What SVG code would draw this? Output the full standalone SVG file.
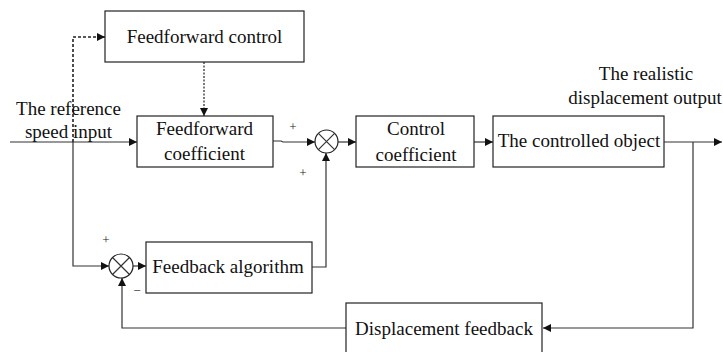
<svg xmlns="http://www.w3.org/2000/svg" width="723" height="352" viewBox="0 0 723 352" font-family="Liberation Serif, Times New Roman, serif">
<style>
.box{fill:#fff;stroke:#222;stroke-width:1.2}
.lbl{font-size:19px;fill:#111;text-anchor:middle}
.sgn{font-size:13px;fill:#222;text-anchor:middle}
.ln{fill:none;stroke:#333;stroke-width:1.2}
.dash{fill:none;stroke:#222;stroke-width:1.6;stroke-dasharray:3 2}
.dot{fill:none;stroke:#222;stroke-width:1.2;stroke-dasharray:2 1.5}
.sum{fill:#fff;stroke:#222;stroke-width:1.2}
</style>
<defs>
<marker id="ah" viewBox="0 0 10 10" refX="10" refY="5" markerWidth="9" markerHeight="8" markerUnits="userSpaceOnUse" orient="auto">
<path d="M0,0 L10,5 L0,10 Z" fill="#111"/>
</marker>
</defs>
<g id="connectors">
<path class="ln" d="M10,142 H137" marker-end="url(#ah)"/>
<path class="dash" d="M73,142 V37 H105" marker-end="url(#ah)"/>
<path class="dot" d="M204,62 V116" marker-end="url(#ah)"/>
<path class="ln" d="M273,141 H281 L283,142 H315" marker-end="url(#ah)"/>
<path class="ln" d="M338,142 H356" marker-end="url(#ah)"/>
<path class="ln" d="M474,142 H493" marker-end="url(#ah)"/>
<path class="ln" d="M664,142 H722" marker-end="url(#ah)"/>
<path class="ln" d="M693,142 V328 H543" marker-end="url(#ah)"/>
<path class="ln" d="M346,328 H122 V278" marker-end="url(#ah)"/>
<path class="ln" d="M73,142 V266 H109" marker-end="url(#ah)"/>
<path class="ln" d="M133,266 H146" marker-end="url(#ah)"/>
<path class="ln" d="M312,267 H326 V153" marker-end="url(#ah)"/>
</g>
<g id="ff-control">
<rect class="box" x="105" y="11" width="199" height="51"/>
<text class="lbl" x="204.5" y="43" font-family="Liberation Serif, serif">Feedforward control</text>
</g>
<g id="input-label">
<text class="lbl" x="68.5" y="115">The reference</text>
<text class="lbl" x="68.5" y="138">speed input</text>
</g>
<g id="ff-coefficient">
<rect class="box" x="137" y="116" width="136" height="51"/>
<text class="lbl" x="204.5" y="135">Feedforward</text>
<text class="lbl" x="204.5" y="160">coefficient</text>
</g>
<g id="sum1">
<circle class="sum" cx="326.5" cy="141.5" r="11.5"/>
<path class="ln" d="M318.4,133.4 L334.6,149.6 M334.6,133.4 L318.4,149.6"/>
<text class="sgn" x="293" y="131">+</text>
<text class="sgn" x="303" y="177">+</text>
</g>
<g id="control-coefficient">
<rect class="box" x="356" y="116" width="118" height="51"/>
<text class="lbl" x="416" y="135">Control</text>
<text class="lbl" x="416" y="161">coefficient</text>
</g>
<g id="controlled-object">
<rect class="box" x="493" y="116" width="171" height="51"/>
<text class="lbl" x="579" y="147">The controlled object</text>
</g>
<g id="output-label">
<text class="lbl" x="646" y="80">The realistic</text>
<text class="lbl" x="645" y="104">displacement output</text>
</g>
<g id="sum2">
<circle class="sum" cx="121" cy="266" r="12"/>
<path class="ln" d="M112.5,257.5 L129.5,274.5 M129.5,257.5 L112.5,274.5"/>
<text class="sgn" x="106" y="244">+</text>
<text class="sgn" x="137" y="295">−</text>
</g>
<g id="feedback-algorithm">
<rect class="box" x="146" y="242" width="166" height="51"/>
<text class="lbl" x="228" y="273">Feedback algorithm</text>
</g>
<g id="displacement-feedback">
<rect class="box" x="346" y="303" width="196" height="60"/>
<text class="lbl" x="444" y="335">Displacement feedback</text>
</g>
</svg>
